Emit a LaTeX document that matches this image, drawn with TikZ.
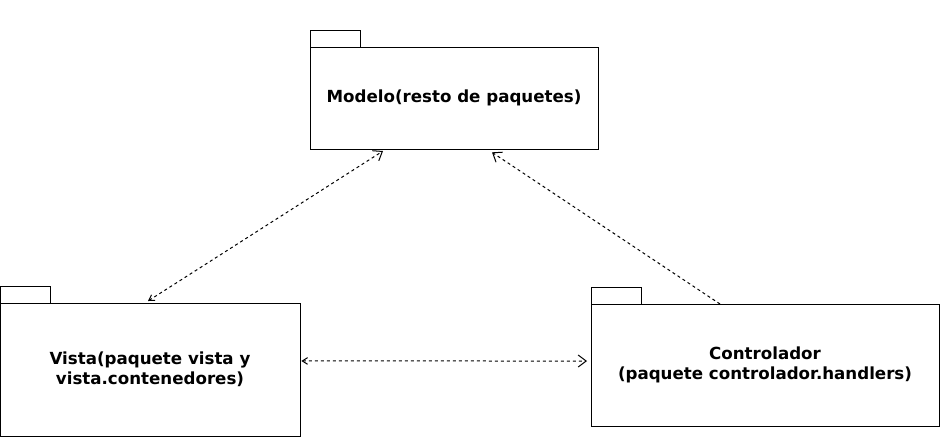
\documentclass[tikz,border=0pt]{standalone}
\usepackage{fontspec}
\setmainfont{DejaVu Sans}
\usetikzlibrary{arrows.meta}

\tikzset{every picture/.style={line width=0.75pt}}
\tikzset{
  pkg/.style={draw, anchor=north west, inner sep=0pt, outer sep=0pt, align=center,
    font=\fontsize{12.5}{15}\selectfont\bfseries},
  dep/.style={dash pattern=on 2.25pt off 2.25pt}
}

\begin{document}
\begin{tikzpicture}[x=0.75pt,y=0.75pt,yscale=-1,xscale=1]
\useasboundingbox (0,0) rectangle (941,437);

%Package: Modelo
\node [pkg, minimum width=216pt, minimum height=76.5pt] (modelo) at (310,47) {Modelo(resto de paquetes)};
\draw (modelo.north west) rectangle ++(50,-17);
%Package: Vista
\node [pkg, minimum width=225pt, minimum height=99.75pt] (vista) at (0,303) {Vista(paquete vista y\\ vista.contenedores)};
\draw (vista.north west) rectangle ++(50,-17);
%Package: Controlador
\node [pkg, minimum width=261pt, minimum height=91.5pt] (controlador) at (591,304) {Controlador\\(paquete controlador.handlers)};
\draw (controlador.north west) rectangle ++(50,-17);

%Dependencies
\draw [dep, {Straight Barb[length=4pt,width=5pt]}-{Straight Barb[length=6pt,width=9pt]}] ([xshift=111pt,yshift=-1.5pt]vista.north west) -- ([xshift=54.75pt,yshift=1.5pt]modelo.south west);
\draw [dep, -{Straight Barb[length=6pt,width=9pt]}] ([xshift=96.75pt]controlador.north west) -- ([xshift=136.5pt,yshift=2.5pt]modelo.south west);
\draw [dep, {Straight Barb[length=4pt,width=5pt]}-{Straight Barb[length=6pt,width=9pt]}] ([xshift=1pt,yshift=-6.4pt]vista.east) -- ([xshift=-3pt,yshift=-3pt]controlador.west);

\end{tikzpicture}
\end{document}
